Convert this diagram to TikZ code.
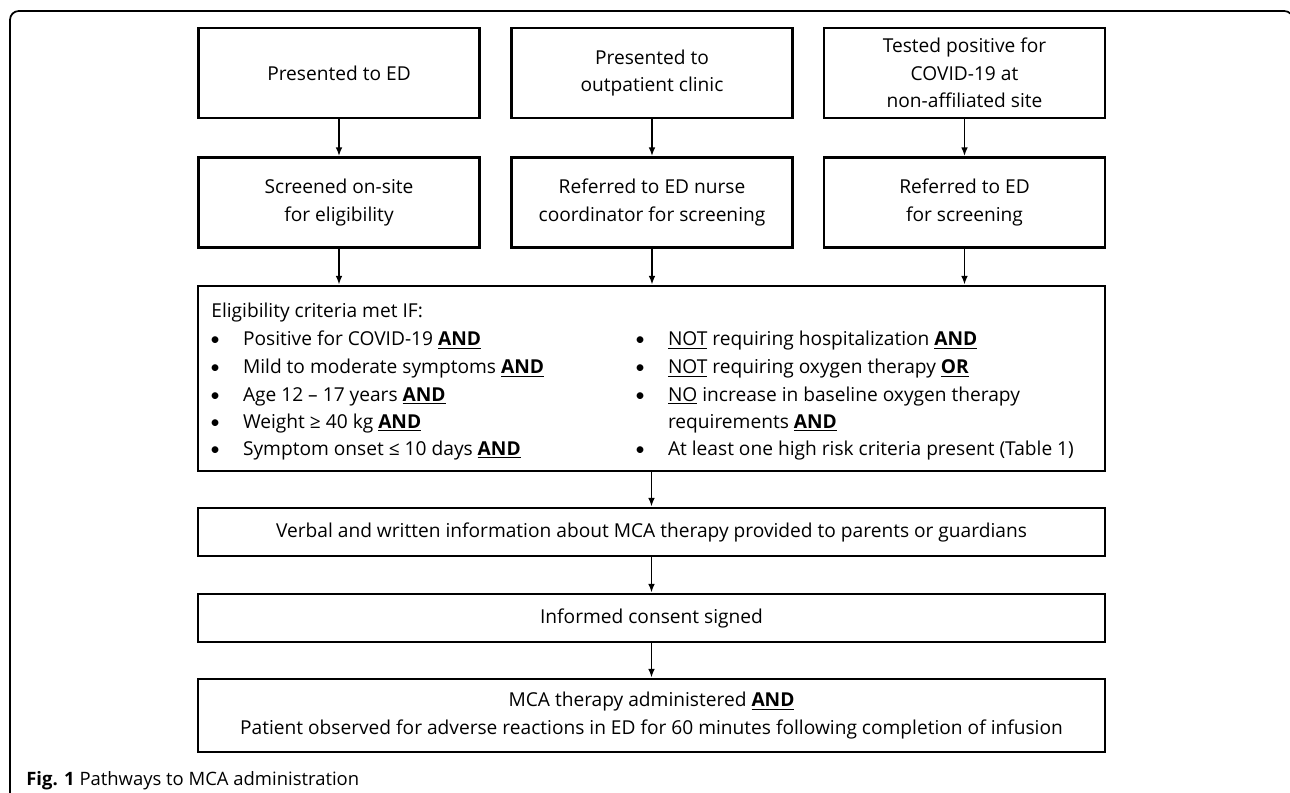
\documentclass[tikz,border=0pt]{standalone}
\usepackage{fontspec}
\setmainfont{Open Sans}
\newfontfamily\capfont{Open Sans}
\newfontfamily\bltfont{Carlito}
\usetikzlibrary{arrows.meta}

\newcommand{\ulbf}[1]{\underline{\textbf{#1}}}
\newcommand{\blt}{\makebox[18.6pt][l]{\bltfont\textbullet}}

\begin{document}
\begin{tikzpicture}[x=0.02cm,y=-0.02cm,font=\fontsize{10.9}{15.5}\selectfont,
  box/.style={draw,line width=1.5pt,inner sep=0pt,align=center,minimum width=5.62cm,minimum height=1.8cm},
  wide/.style={draw,line width=1.5pt,inner sep=0pt,align=center,minimum width=18.14cm},
  item/.style={anchor=base west,inner sep=0pt},
  conn/.style={line width=1.1pt,-{Latex[length=5pt,width=3.8pt]}}]

\useasboundingbox (0,0) rectangle (1290,793);

% outer frame of the figure
\draw[line width=1pt,rounded corners=5pt] (10,800) -- (10,11) -- (1293,11) -- (1293,800);

% first row
\node[box] (ed) at (339,73) {Presented to ED};
\node[box] (clinic) at (652,73) {Presented to\\outpatient clinic};
\node[box] (tested) at (964.5,73) {Tested positive for\\COVID-19 at\\non-affiliated site};

% second row
\node[box] (screened) at (339,202.5) {Screened on-site\\for eligibility};
\node[box] (nurse) at (652,202.5) {Referred to ED nurse\\coordinator for screening};
\node[box] (referred) at (964.5,202.5) {Referred to ED\\for screening};

% criteria
\node[wide,minimum height=3.7cm] (crit) at (651.5,378.5) {};
\node[item] (crittitle) at (211,318) {Eligibility criteria met IF:};
\node[item] (la) at (210,346) {\blt Positive for COVID-19 \ulbf{AND}};
\node[item] (lb) at (210,374) {\blt Mild to moderate symptoms \ulbf{AND}};
\node[item] (lc) at (210,401) {\blt Age 12 – 17 years \ulbf{AND}};
\node[item] (ld) at (210,428) {\blt Weight ≥ 40 kg \ulbf{AND}};
\node[item] (le) at (210,455) {\blt Symptom onset ≤ 10 days \ulbf{AND}};
\node[item] (ra) at (635,346) {\blt \underline{NOT} requiring hospitalization \ulbf{AND}};
\node[item] (rb) at (635,374) {\blt \underline{NOT} requiring oxygen therapy \ulbf{OR}};
\node[item] (rc) at (635,401) {\blt \underline{NO} increase in baseline oxygen therapy};
\node[item] (rd) at (635,428) {\makebox[18.6pt]{}requirements \ulbf{AND}};
\node[item] (re) at (635,455) {\blt At least one high risk criteria present (Table 1)};

% lower boxes
\node[wide,minimum height=0.96cm] (info) at (651.5,532) {Verbal and written information about MCA therapy provided to parents or guardians};
\node[wide,minimum height=0.96cm] (consent) at (651.5,618) {Informed consent signed};
\node[wide,minimum height=1.46cm] (admin) at (651.5,715.5) {MCA therapy administered \ulbf{AND}\\Patient observed for adverse reactions in ED for 60 minutes following completion of infusion};

% arrows
\draw[conn] (ed) -- (screened);
\draw[conn] (clinic) -- (nurse);
\draw[conn] (tested) -- (referred);
\draw[conn] (screened.south) -- (screened.south |- crit.north);
\draw[conn] (nurse.south) -- (nurse.south |- crit.north);
\draw[conn] (referred.south) -- (referred.south |- crit.north);
\draw[conn] (crit) -- (info);
\draw[conn] (info) -- (consent);
\draw[conn] (consent) -- (admin);

% caption
\node[item,font=\capfont\fontsize{10.5}{12}\selectfont] (caption) at (26,785) {\textbf{Fig. 1} Pathways to MCA administration};

\end{tikzpicture}
\end{document}
